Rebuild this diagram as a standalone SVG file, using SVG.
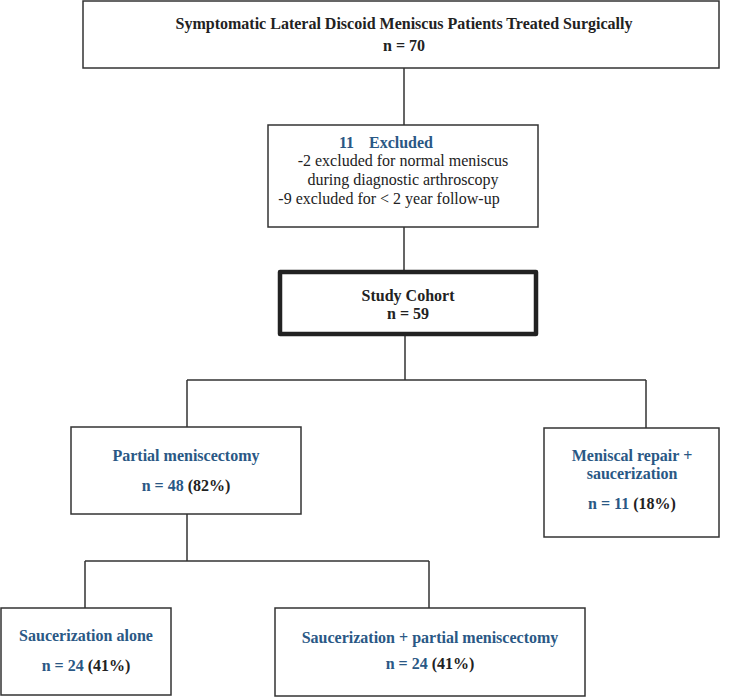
<svg xmlns="http://www.w3.org/2000/svg" width="751" height="697" viewBox="0 0 751 697">
<style>
.box{fill:#fff;stroke:#333;stroke-width:1.5}
.thick{fill:#fff;stroke:#222;stroke-width:4.5;stroke-linejoin:round}
.ln{stroke:#333;stroke-width:1.5;fill:none}
text{font-family:"Liberation Serif","DejaVu Serif",serif;font-size:16px;text-anchor:middle;dominant-baseline:central}
.b{font-weight:bold;fill:#222}
.bl{font-weight:bold;fill:#2a5885}
.r{fill:#222}
.k{fill:#222}
</style>
<rect width="751" height="697" fill="#fff"/>
<g id="connectors">
<path class="ln" d="M404 68V125M404 227V272M405 334V380M187 380H646M187 380V427M646 380V428M187 514V561M85 561H429M85 561V608M429 561V608"/>
</g>
<g id="top">
<rect class="box" x="83" y="1" width="636" height="67"/>
<text class="b" x="404" y="23">Symptomatic Lateral Discoid Meniscus Patients Treated Surgically</text>
<text class="b" x="404" y="45">n = 70</text>
</g>
<g id="excluded">
<rect class="box" x="268" y="125" width="270" height="102"/>
<text class="bl" x="339" y="142" style="text-anchor:start">11</text>
<text class="bl" x="369" y="142" style="text-anchor:start">Excluded</text>
<text class="r" x="403" y="160">-2 excluded for normal meniscus</text>
<text class="r" x="403" y="179">during diagnostic arthroscopy</text>
<text class="r" x="389" y="198">-9 excluded for &lt; 2 year follow-up</text>
</g>
<g id="cohort">
<rect class="thick" x="280" y="272" width="256" height="62"/>
<text class="b" x="408" y="295">Study Cohort</text>
<text class="b" x="408" y="313">n = 59</text>
</g>
<g id="partial">
<rect class="box" x="71" y="427" width="230" height="87"/>
<text class="bl" x="186" y="455">Partial meniscectomy</text>
<text class="bl" x="186" y="485">n = 48 <tspan class="k">(82%)</tspan></text>
</g>
<g id="repair">
<rect class="box" x="544" y="428" width="175" height="109"/>
<text class="bl" x="632" y="455">Meniscal repair +</text>
<text class="bl" x="632" y="473">saucerization</text>
<text class="bl" x="632" y="503">n = 11 <tspan class="k">(18%)</tspan></text>
</g>
<g id="saucer">
<rect class="box" x="1" y="608" width="170" height="87"/>
<text class="bl" x="86" y="635">Saucerization alone</text>
<text class="bl" x="86" y="665">n = 24 <tspan class="k">(41%)</tspan></text>
</g>
<g id="saucerpm">
<rect class="box" x="275" y="608" width="310" height="88"/>
<text class="bl" x="430" y="637">Saucerization + partial meniscectomy</text>
<text class="bl" x="430" y="663">n = 24 <tspan class="k">(41%)</tspan></text>
</g>
</svg>
